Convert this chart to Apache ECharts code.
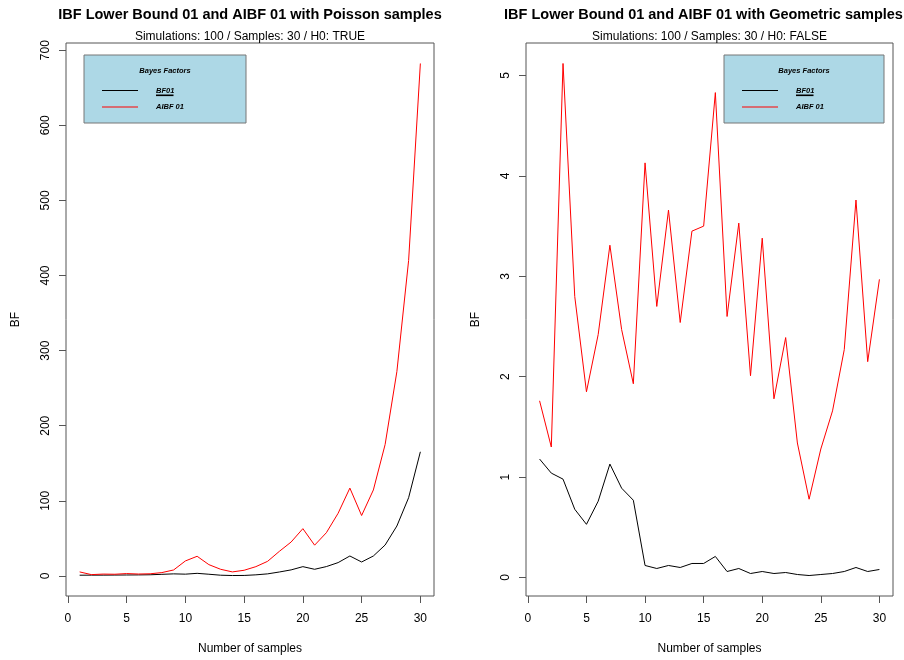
<!DOCTYPE html>
<html>
<head>
<meta charset="utf-8">
<script src="https://cdn.jsdelivr.net/npm/echarts@6/dist/echarts.min.js"></script>
<style>
html,body{margin:0;padding:0;background:#fff;}
#chart{width:904px;height:660px;}
</style>
</head>
<body>
<div id="chart"></div>
<script>
// ---- data ----
const samples = [1,2,3,4,5,6,7,8,9,10,11,12,13,14,15,16,17,18,19,20,21,22,23,24,25,26,27,28,29,30];
const poissonBF01 = [1.0,1.1,1.1,1.2,1.3,1.4,1.6,2.2,2.8,2.4,3.5,2.3,1.0,0.6,0.7,1.5,2.8,5.3,8.1,12.4,8.9,12.5,17.8,26.6,18.6,26.6,41.2,66.5,104.2,165.3];
const poissonAIBF01 = [5.4,1.8,2.5,2.3,3.2,2.6,2.9,4.5,8.0,20.0,26.2,15.1,8.9,5.4,7.6,12.4,19.5,32.8,45.2,63.0,41.0,57.6,83.5,117.0,80.5,114.5,175.0,272.0,420.0,682.3];
const geomBF01 = [1.18,1.04,0.98,0.68,0.53,0.76,1.13,0.89,0.77,0.12,0.09,0.12,0.10,0.14,0.14,0.21,0.06,0.09,0.04,0.06,0.04,0.05,0.03,0.02,0.03,0.04,0.06,0.10,0.06,0.08];
const geomAIBF01 = [1.76,1.30,5.12,2.80,1.85,2.42,3.31,2.47,1.93,4.13,2.70,3.66,2.54,3.45,3.50,4.83,2.60,3.53,2.01,3.38,1.78,2.39,1.34,0.78,1.28,1.66,2.27,3.76,2.15,2.97];
const xTicks = [0,5,10,15,20,25,30];
const yTicksPoisson = [0,100,200,300,400,500,600,700];
const yTicksGeom = [0,1,2,3,4,5];
const titles = ['IBF Lower Bound 01 and AIBF 01 with Poisson samples','IBF Lower Bound 01 and AIBF 01 with Geometric samples'];
const subtitles = ['Simulations: 100 / Samples: 30 / H0: TRUE','Simulations: 100 / Samples: 30 / H0: FALSE'];
const seriesNames = ['BF01','AIBF 01'];
const legendTitle = 'Bayes Factors';
const xName = 'Number of samples';
const yName = 'BF';

// ---- helpers ----
const FONT = 'Liberation Sans, Arial, sans-serif';
function pairs(ys){ return ys.map((v,i)=>[samples[i], v]); }
function rRange(arrs){
  const all = [].concat(...arrs);
  const lo = Math.min(...all), hi = Math.max(...all), r = hi - lo;
  return [lo - 0.04*r, hi + 0.04*r];
}
const xr = rRange([samples]);
const yrP = rRange([poissonBF01, poissonAIBF01]);
const yrG = rRange([geomBF01, geomAIBF01]);

const boxes = [
  {left:66, top:43, width:368, height:553},
  {left:526, top:43, width:367, height:553}
];
const axisColor = '#555';

function xAxisFor(gi){
  return {
    type:'value', gridIndex:gi, min:xr[0], max:xr[1],
    axisLine:{show:false, onZero:false},
    splitLine:{show:false},
    axisTick:{show:true, inside:false, length:7, customValues:xTicks, lineStyle:{color:axisColor, width:1}},
    axisLabel:{show:true, customValues:xTicks, margin:17, fontSize:12, color:'#000', fontFamily:FONT},
    name:xName, nameLocation:'middle', nameGap:47,
    nameTextStyle:{fontSize:12, color:'#000', fontFamily:FONT}
  };
}
function yAxisFor(gi, yr, ticks){
  return {
    type:'value', gridIndex:gi, min:yr[0], max:yr[1],
    axisLine:{show:false, onZero:false},
    splitLine:{show:false},
    axisTick:{show:true, inside:false, length:7, customValues:ticks, lineStyle:{color:axisColor, width:1}},
    axisLabel:{show:true, customValues:ticks, rotate:90, margin:14, fontSize:12, color:'#000', fontFamily:FONT},
    name:yName, nameLocation:'middle', nameGap:44, nameRotate:90,
    nameTextStyle:{fontSize:12, color:'#000', fontFamily:FONT}
  };
}
function lineSeries(name, gi, ys, color){
  return {
    type:'line', name:name, xAxisIndex:gi, yAxisIndex:gi, data:pairs(ys),
    symbol:'none', showSymbol:false, animation:false,
    lineStyle:{color:color, width:1}, itemStyle:{color:color}, z:3
  };
}
function legendFor(left){
  return {
    data:seriesNames, orient:'vertical', left:left, top:81.5,
    icon:'rect', itemWidth:36, itemHeight:1, itemGap:8.4, selectedMode:false, z:6,
    textStyle:{fontSize:7.5, fontWeight:'bold', fontStyle:'italic', color:'#000', fontFamily:FONT, padding:[0,0,0,13]}
  };
}
function legendBox(x, y, w, h, underlineX){
  return [
    {type:'rect', z:4, shape:{x:x, y:y, width:w, height:h}, style:{fill:'#ADD8E6', stroke:'#777', lineWidth:1}},
    {type:'text', z:5, x:x + w/2, y:y + 16, style:{text:legendTitle, font:'italic bold 7.5px ' + FONT, fill:'#000', align:'center', verticalAlign:'middle'}},
    {type:'rect', z:7, shape:{x:underlineX, y:y + 39.5, width:17.5, height:1.6}, style:{fill:'#000'}}
  ];
}

const chart = echarts.init(document.getElementById('chart'), null, {renderer:'canvas'});
chart.setOption({
  animation:false,
  backgroundColor:'#fff',
  textStyle:{fontFamily:FONT},
  title:[
    {text:titles[0], left:250, top:7, textAlign:'center', padding:0, textStyle:{fontSize:14.5, fontWeight:'bold', color:'#000', fontFamily:FONT}},
    {text:subtitles[0], left:250, top:31, textAlign:'center', padding:0, textStyle:{fontSize:12, fontWeight:'normal', color:'#000', fontFamily:FONT}},
    {text:titles[1], left:703.5, top:7, textAlign:'center', padding:0, textStyle:{fontSize:14.5, fontWeight:'bold', color:'#000', fontFamily:FONT}},
    {text:subtitles[1], left:709.5, top:31, textAlign:'center', padding:0, textStyle:{fontSize:12, fontWeight:'normal', color:'#000', fontFamily:FONT}}
  ],
  grid:boxes.map(b => Object.assign({show:true, borderColor:axisColor, borderWidth:1, backgroundColor:'transparent', containLabel:false}, b)),
  xAxis:[xAxisFor(0), xAxisFor(1)],
  yAxis:[yAxisFor(0, yrP, yTicksPoisson), yAxisFor(1, yrG, yTicksGeom)],
  legend:[legendFor(97), legendFor(737)],
  graphic:[].concat(legendBox(84, 55, 162, 68, 156), legendBox(724, 55, 160, 68, 796)),
  series:[
    lineSeries(seriesNames[0], 0, poissonBF01, '#000'),
    lineSeries(seriesNames[1], 0, poissonAIBF01, '#FF0000'),
    lineSeries(seriesNames[0], 1, geomBF01, '#000'),
    lineSeries(seriesNames[1], 1, geomAIBF01, '#FF0000')
  ]
});
</script>
</body>
</html>
